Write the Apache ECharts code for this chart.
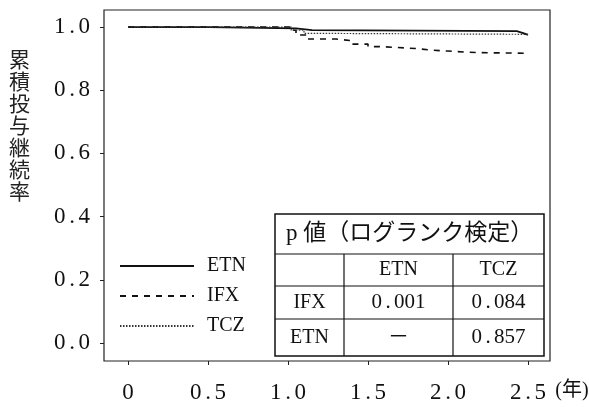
<!DOCTYPE html>
<html><head><meta charset="utf-8">
<script src="https://cdn.jsdelivr.net/npm/echarts@6/dist/echarts.min.js"></script>
<style>html,body{margin:0;padding:0;background:#fff}#c{width:589px;height:407px}</style>
</head><body><div id="c"></div>
<script>
// ---- data ----
const seriesNames = ['ETN', 'IFX', 'TCZ'];
const etn = [[0,1],[0.5,0.996],[1.05,0.99],[1.15,0.987],[2.43,0.981],[2.47,0.975],[2.5,0.975]];
const ifx = [[0,1],[1.03,0.99],[1.05,0.975],[1.12,0.962],[1.3,0.957],[1.4,0.946],[1.5,0.938],[1.58,0.932],[1.8,0.927],[1.9,0.924],[2.0,0.921],[2.1,0.919],[2.2,0.917],[2.5,0.917]];
const tcz = [[0,1],[1.02,0.99],[1.1,0.98],[1.2,0.977],[2.5,0.976]];
const xTicks = [0, 0.5, 1.0, 1.5, 2.0, 2.5];
const yTicks = [0, 0.2, 0.4, 0.6, 0.8, 1.0];
const xUnit = '(年)';
const yTitle = '累積投与継続率';
const tableTitle = 'p 値（ログランク検定）';
const tableCols = ['ETN', 'TCZ'];
const tableRowNames = ['IFX', 'ETN'];
const tableVals = [['0.001', '0.084'], ['－', '0.857']];

const FONT = '"Liberation Serif","Noto Sans CJK JP",serif';
const chart = echarts.init(document.getElementById('c'), null, {renderer: 'canvas'});

function richNum(s) {
  if (s.indexOf('.') < 0) return '{d|' + s + '}';
  const p = s.split('.');
  return '{d|' + p[0] + '}{p|.}{d|' + p[1] + '}';
}
const rich = {
  d: {fontFamily: FONT, fontSize: 23, color: '#111'},
  p: {fontFamily: FONT, fontSize: 23, color: '#111', width: 13, align: 'left'}
};
const tRich = {
  d: {fontFamily: FONT, fontSize: 21, fill: '#111', color: '#111'},
  p: {fontFamily: FONT, fontSize: 21, fill: '#111', color: '#111', width: 12, align: 'left'}
};

// table geometry
const tL = 275, tR = 544, c1 = 344, c2 = 453;
const rY = [214, 254, 286, 319, 356];
const tbl = [];
const ls = {stroke: '#111', lineWidth: 1.2};
tbl.push({type: 'rect', shape: {x: tL, y: rY[0], width: tR - tL, height: rY[4] - rY[0]}, style: {fill: '#fff', stroke: '#111', lineWidth: 1.5}, z: 100});
for (let i = 1; i < 4; i++) tbl.push({type: 'line', shape: {x1: tL, y1: rY[i], x2: tR, y2: rY[i]}, style: ls, z: 101});
tbl.push({type: 'line', shape: {x1: c1, y1: rY[1], x2: c1, y2: rY[4]}, style: ls, z: 101});
tbl.push({type: 'line', shape: {x1: c2, y1: rY[1], x2: c2, y2: rY[4]}, style: ls, z: 101});
const tf = {fontFamily: FONT, fontSize: 20, fill: '#111', align: 'center', verticalAlign: 'middle'};
tbl.push({type: 'text', x: (tL + tR) / 2, y: (rY[0] + rY[1]) / 2, style: Object.assign({}, tf, {text: tableTitle, fontSize: 23}), z: 102});
const colCx = [(c1 + c2) / 2, (c2 + tR) / 2];
tableCols.forEach((t, j) => tbl.push({type: 'text', x: colCx[j], y: (rY[1] + rY[2]) / 2, style: Object.assign({}, tf, {text: t}), z: 102}));
tableRowNames.forEach((t, i) => {
  tbl.push({type: 'text', x: (tL + c1) / 2, y: (rY[i + 2] + rY[i + 3]) / 2, style: Object.assign({}, tf, {text: t}), z: 102});
  tableVals[i].forEach((v, j) => tbl.push({type: 'text', x: colCx[j], y: (rY[i + 2] + rY[i + 3]) / 2, style: Object.assign({}, tf, {text: richNum(v), rich: tRich}), z: 102}));
});

const lineBase = {type: 'line', step: 'end', showSymbol: false, symbol: 'none', animation: false, color: '#111'};

chart.setOption({
  animation: false,
  grid: {left: 104, right: 39, top: 10, bottom: 46, show: true, borderColor: '#222', borderWidth: 1.2, backgroundColor: 'transparent'},
  legend: {
    show: true,
    orient: 'vertical', left: 114, top: 251, itemWidth: 74, itemHeight: 20, itemGap: 10,
    data: seriesNames,
    itemStyle: {opacity: 0, borderWidth: 0},
    textStyle: {fontFamily: FONT, fontSize: 20, color: '#111', padding: [0, 0, 0, 8]},
    z: 50
  },
  xAxis: {
    type: 'value', min: -0.15, max: 2.6375,
    axisLine: {show: false, onZero: false}, splitLine: {show: false},
    axisTick: {show: true, inside: false, length: 4, customValues: xTicks, lineStyle: {color: '#222'}},
    axisLabel: {customValues: xTicks, margin: 20, formatter: v => v === 0 ? '{d|0}' : richNum(v.toFixed(1)), rich: rich}
  },
  yAxis: {
    type: 'value', min: -0.057, max: 1.054,
    axisLine: {show: false, onZero: false}, splitLine: {show: false},
    axisTick: {show: true, inside: false, length: 4, customValues: yTicks, lineStyle: {color: '#222'}},
    axisLabel: {customValues: yTicks, margin: 14, formatter: v => richNum(v.toFixed(1)), rich: rich}
  },
  series: [
    Object.assign({}, lineBase, {name: 'ETN', data: etn, lineStyle: {color: '#111', width: 1.8, type: 'solid'}}),
    Object.assign({}, lineBase, {name: 'IFX', data: ifx, lineStyle: {color: '#111', width: 1.6, type: [6, 6]}}),
    Object.assign({}, lineBase, {name: 'TCZ', data: tcz, lineStyle: {color: '#333', width: 1.2, type: [1.5, 1.5]}})
  ],
  graphic: [
    {type: 'text', left: 9, top: 50, style: {text: yTitle.split('').join('\n'), fontFamily: FONT, fontSize: 21, lineHeight: 22, fill: '#222'}},
    {type: 'text', x: 572, y: 391, style: {text: xUnit, fontFamily: FONT, fontSize: 20, fill: '#111', align: 'center', verticalAlign: 'middle'}}
  ].concat(tbl)
});
</script></body></html>
